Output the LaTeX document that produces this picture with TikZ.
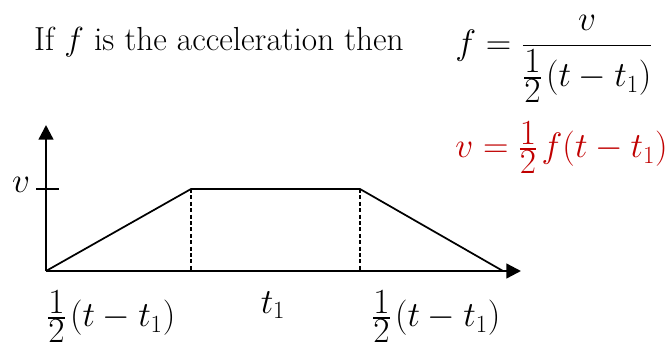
\documentclass[tikz,border=0pt]{standalone}
\usepackage{fix-cm}
\usepackage{amsmath}
\usetikzlibrary{arrows.meta,positioning}
\definecolor{eqred}{HTML}{C00000}
\newcommand{\hlf}{\genfrac{}{}{}{1}{\textstyle 1}{\textstyle 2}\mkern2mu}

\begin{document}
\begin{tikzpicture}[
  x=0.75pt, y=-0.75pt,
  font=\fontsize{26.5}{32}\selectfont,
  axis/.style={line width=1.8pt, -{Triangle[length=11pt, width=11pt]}},
  graph/.style={line width=1.3pt},
  guide/.style={line width=1.1pt, dash pattern=on 3pt off 1.8pt},
  lbl/.style={inner sep=0pt}
]
\useasboundingbox (0,0) rectangle (667,347);
% axes and the speed-time graph
\coordinate (O) at (46,271);
\coordinate (ytop) at (46,125);
\coordinate (xend) at (521,271);
\coordinate (A) at (191,189);
\coordinate (B) at (360,189);
\coordinate (C) at (503,271);
\coordinate (Abase) at (191,271);
\coordinate (Bbase) at (360,271);
\coordinate (tickL) at (36,189);
\coordinate (tickR) at (59,189);
\draw[axis] (O) -- (ytop);
\draw[axis] (O) -- (xend);
\draw[graph] (tickL) -- (tickR);
\draw[graph] (O) -- (A) -- (B) -- (C);
\draw[guide] (A) -- (Abase);
\draw[guide] (B) -- (Bbase);
% labels
\node[lbl] (vlab) at (21,185) {$v$};
\node[lbl, anchor=north] (left) at (111,290) {$\hlf(t-t_1)$};
\node[lbl] (mid) at (273,305) {$t_1$};
\node[lbl, anchor=north] (right) at (436,290) {$\hlf(t-t_1)$};
% the working
\node[lbl, font=\fontsize{25}{30}\selectfont] (intro) at (219,42) {If $f$ is the acceleration then};
\node[lbl, anchor=north west] (feq) at (455,15) {$f=\dfrac{v}{\hlf(t-t_1)}$};
\node[lbl, anchor=north west, text=eqred] (veq) at (455,121) {$v=\hlf f(t-t_1)$};
\end{tikzpicture}
\end{document}
